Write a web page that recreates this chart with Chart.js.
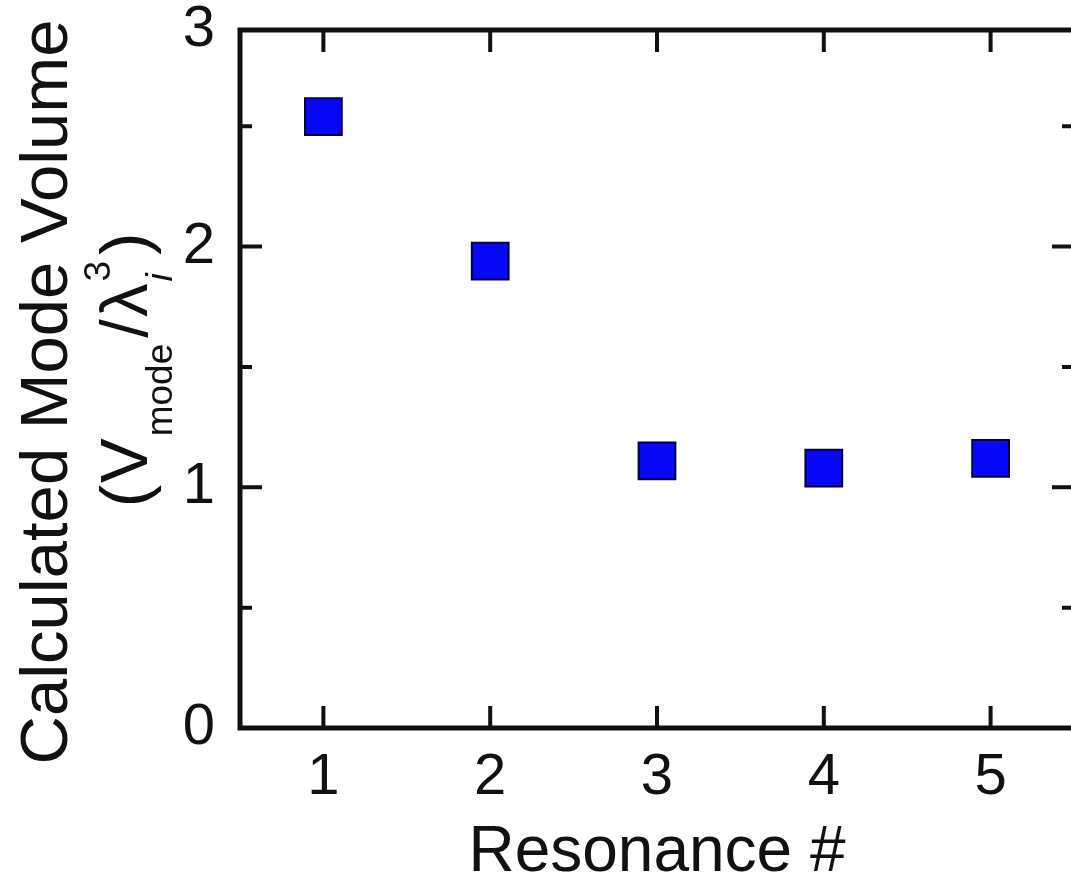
<!DOCTYPE html>
<html>
<head>
<meta charset="utf-8">
<script src="https://cdn.jsdelivr.net/npm/chart.js@4/dist/chart.umd.min.js"></script>
<style>
  html, body { margin: 0; padding: 0; background: #fff; overflow: hidden; }
  #wrap { width: 1080px; height: 876px; }
</style>
</head>
<body>
<div id="wrap"><canvas id="modeChart" width="1080" height="876"></canvas></div>
<script>
// Data
const resonance = [1, 2, 3, 4, 5];
const modeVolume = [2.54, 1.94, 1.11, 1.08, 1.12];

// Axis ticks (the top of the frame sits just under 3 but is labelled "3")
const xTickValues = [1, 2, 3, 4, 5];
const xTickLabels = ['1', '2', '3', '4', '5'];
const yTickValues = [0, 0.5, 1, 1.5, 2, 2.5, 2.9];
const yTickLabels = ['0', '', '1', '', '2', '', '3'];

const FONT = '"Liberation Sans", Arial, Helvetica, sans-serif';
const INK = '#111';

// frame + inward tick marks, drawn from the chart's own scales
const framePlugin = {
    id: 'frame',
    beforeDatasetsDraw(chart) {
        const { ctx, chartArea: a, scales: { x, y } } = chart;
        ctx.save();
        ctx.strokeStyle = INK;
        ctx.lineCap = 'butt';

        ctx.lineWidth = 4;
        ctx.beginPath();
        xTickValues.forEach(v => {
            const px = x.getPixelForValue(v);
            ctx.moveTo(px, a.bottom); ctx.lineTo(px, a.bottom - 22);
            ctx.moveTo(px, a.top); ctx.lineTo(px, a.top + 22);
        });
        yTickValues.forEach(v => {
            if (v <= y.min || v >= y.max) return;
            const py = y.getPixelForValue(v);
            const len = Number.isInteger(v) ? 22 : 12;
            ctx.moveTo(a.left, py); ctx.lineTo(a.left + len, py);
            ctx.moveTo(a.right, py); ctx.lineTo(a.right - len, py);
        });
        ctx.stroke();

        ctx.lineWidth = 5;
        ctx.strokeRect(a.left, a.top, a.right - a.left, a.bottom - a.top);
        ctx.restore();
    }
};

// two-line y title with subscript / superscript
const yTitlePlugin = {
    id: 'yTitle',
    afterDraw(chart) {
        const ctx = chart.ctx;
        const big = '67px ' + FONT;
        const small = '37px ' + FONT;
        ctx.save();
        ctx.fillStyle = INK;
        ctx.textAlign = 'left';
        ctx.textBaseline = 'alphabetic';

        ctx.font = big;
        const line1 = 'Calculated Mode Volume';
        const w1 = ctx.measureText(line1).width;
        ctx.save();
        ctx.translate(67, 392 + w1 / 2);
        ctx.rotate(-Math.PI / 2);
        ctx.fillText(line1, 0, 0);
        ctx.restore();

        const parts = [
            { t: '(', f: big, dy: 0 },
            { t: 'V', f: big, dy: 0, gap: 2 },
            { t: 'mode', f: small, dy: 25, gap: 2 },
            { t: '/', f: big, dy: 0, gap: 6 },
            { t: '\u03BB', f: big, dy: 0, gap: 2 },
            { t: 'i', f: 'italic ' + small, dy: 25, stack: true, gap: 2 },
            { t: '3', f: small, dy: -37 },
            { t: ')', f: big, dy: 0, gap: 6 }
        ];
        let total = 0;
        parts.forEach(p => {
            ctx.font = p.f;
            p.w = ctx.measureText(p.t).width;
            total += p.stack ? 0 : p.w;
            total += p.gap || 0;
        });
        ctx.save();
        ctx.translate(147, 370 + total / 2);
        ctx.rotate(-Math.PI / 2);
        let pos = 0;
        parts.forEach(p => {
            pos += p.gap || 0;
            ctx.font = p.f;
            ctx.fillText(p.t, pos, p.dy);
            if (!p.stack) pos += p.w;
        });
        ctx.restore();
        ctx.restore();
    }
};

new Chart(document.getElementById('modeChart'), {
    type: 'scatter',
    data: {
        datasets: [{
            data: resonance.map((r, i) => ({ x: r, y: modeVolume[i] })),
            pointStyle: 'rect',
            pointRadius: 26,
            pointHoverRadius: 26,
            backgroundColor: '#0808f8',
            borderColor: '#00003c',
            borderWidth: 2
        }]
    },
    options: {
        responsive: false,
        animation: false,
        devicePixelRatio: 1,
        layout: { autoPadding: false, padding: { left: 0, right: 6, top: 30, bottom: 0 } },
        plugins: {
            legend: { display: false },
            tooltip: { enabled: false }
        },
        scales: {
            x: {
                type: 'linear',
                min: 0.5,
                max: 5.5,
                grid: { display: false, drawTicks: false },
                border: { display: false },
                afterBuildTicks: s => { s.ticks = xTickValues.map(v => ({ value: v })); },
                afterFit: s => { s.height = 148; s.paddingLeft = 0; s.paddingRight = 0; },
                ticks: {
                    color: INK,
                    padding: 15,
                    font: { family: FONT, size: 58 },
                    callback: (v, i) => xTickLabels[i]
                },
                title: {
                    display: true,
                    text: 'Resonance #',
                    color: INK,
                    font: { family: FONT, size: 64, lineHeight: 0.7 },
                    padding: { top: 0, bottom: 0 }
                }
            },
            y: {
                type: 'linear',
                min: 0,
                max: 2.9,
                grid: { display: false, drawTicks: false },
                border: { display: false },
                afterBuildTicks: s => { s.ticks = yTickValues.map(v => ({ value: v })); },
                afterFit: s => { s.width = 240; s.paddingTop = 0; s.paddingBottom = 0; },
                ticks: {
                    color: INK,
                    padding: 25,
                    font: { family: FONT, size: 58 },
                    callback: (v, i) => yTickLabels[i]
                }
            }
        }
    },
    plugins: [framePlugin, yTitlePlugin]
});
</script>
</body>
</html>
